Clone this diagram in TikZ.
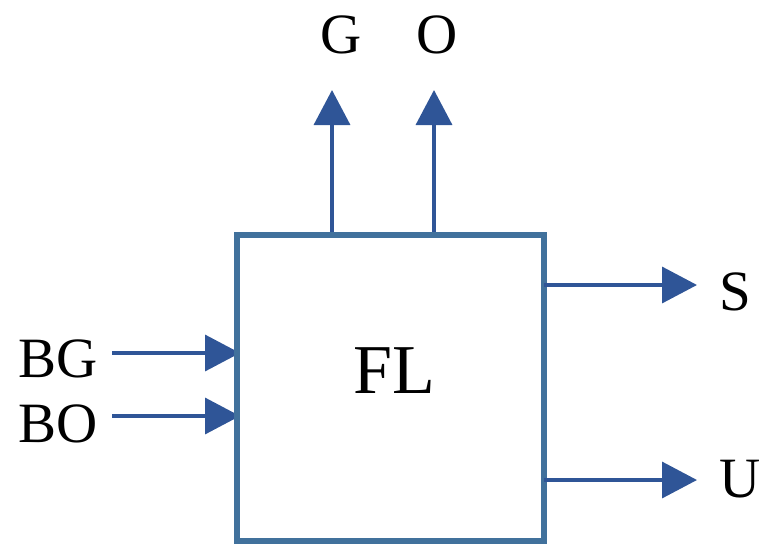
\documentclass[tikz,border=0pt]{standalone}
\usepackage{fontspec}
\setmainfont{Liberation Serif}
\usetikzlibrary{arrows.meta}
\definecolor{boxblue}{HTML}{41719C}
\definecolor{arrblue}{HTML}{2F5597}
\tikzset{
  arr/.style={draw=arrblue, line width=3.5pt, -{Triangle[length=35pt,width=36pt]}},
  lbl/.style={font=\fontsize{57}{62}\selectfont, inner sep=0pt},
  flbox/.style={draw=boxblue, line width=6.5pt, fill=white, minimum width=307pt, minimum height=306pt, outer sep=0pt, inner sep=0pt}
}
\begin{document}
\begin{tikzpicture}[x=1pt,y=-1pt]
\useasboundingbox (0,0) rectangle (767,544);
\coordinate (gs) at (332,235);
\coordinate (ge) at (332,90);
\coordinate (os) at (434,235);
\coordinate (oe) at (434,90);
\coordinate (bgs) at (112,353);
\coordinate (bge) at (240,353);
\coordinate (bos) at (112,416);
\coordinate (boe) at (240,416);
\coordinate (ss) at (544,285);
\coordinate (se) at (697,285);
\coordinate (us) at (544,480);
\coordinate (ue) at (697,480);
\draw[arr] (gs) -- (ge);
\draw[arr] (os) -- (oe);
\draw[arr] (bgs) -- (bge);
\draw[arr] (bos) -- (boe);
\node[flbox] (fl) at (390.5,388) {};
\node[font=\fontsize{70}{74}\selectfont, inner sep=0pt] (fltext) at (394,371) {FL};
\draw[arr] (ss) -- (se);
\draw[arr] (us) -- (ue);
\node[lbl] (g) at (341,35) {G};
\node[lbl] (o) at (437.5,35) {O};
\node[lbl] (bg) at (58,359) {BG};
\node[lbl] (bo) at (58,424) {BO};
\node[lbl] (s) at (735,292) {S};
\node[lbl] (u) at (740,479) {U};
\end{tikzpicture}
\end{document}
